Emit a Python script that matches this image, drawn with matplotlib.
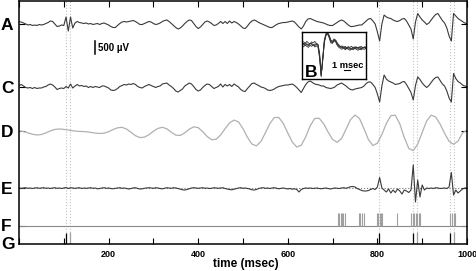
import numpy as np
import matplotlib.pyplot as plt

plt.rcParams['font.family'] = ['Liberation Sans', 'DejaVu Sans']
plt.rcParams['font.weight'] = 'bold'

W, H = 477, 271  # output size in pixels

# sample times (msec)
t_5ms = np.arange(0, 1001, 5)
t_10ms = np.arange(0, 1001, 10)

# traces A, C, E in uV, one value every 5 msec
trace_a = [
    80, 80, 40, 0, -40, -20, -60, -40, -60, -20,
    -40, -20, 20, 60, 120, 100, 0, -100, -80, -40,
    -60, 280, -280, 280, -160, 40, 100, 60, 40, 20,
    40, 0, 20, -20, 0, 20, -20, 20, 40, 0,
    -40, -100, -140, -140, -60, 20, 80, 100, 80, 100,
    120, 140, 100, 40, -20, -20, 20, 60, 100, 80,
    20, -20, 0, 40, 100, 140, 160, 100, 20, -60,
    -140, -200, -160, -80, 20, 100, 160, 140, 20, -100,
    -180, -120, -20, 80, 120, 80, 20, -60, -40, 20,
    100, 20, 100, 20, 120, 40, 100, 60, 0, -80,
    -160, -180, -80, 40, 120, 160, 120, 60, 20, -20,
    -60, -100, -140, -140, -80, -20, 20, 40, 60, 60,
    80, 100, 120, 80, -20, -120, -200, -80, 100, 200,
    220, 180, 140, 100, 80, 60, 40, 0, -40, -60,
    -60, 0, 60, 120, 160, 120, 40, -40, -100, -100,
    -80, -60, -40, -40, 40, 120, 200, 220, 120, 0,
    -320, -680, 0, 360, 280, 240, 220, 160, 120, 100,
    140, 200, 220, 120, -40, -200, -600, 80, 420, 280,
    160, 80, -20, 40, 160, 280, 380, 420, 280, 140,
    40, -160, -480, -680, 420, 320, 220, 160, 100, 40,
    20,
]
trace_c = [
    60, 100, 40, -20, -40, -20, -60, -20, -60, -40,
    -40, 0, 20, 80, 120, 80, 0, -100, -60, -40,
    -60, 20, -40, 120, -40, 40, 100, 40, 60, 20,
    40, -20, 20, -20, 20, 0, -20, 40, 40, 0,
    -40, -120, -140, -120, -60, 20, 60, 100, 80, 120,
    100, 140, 100, 20, -20, -40, 20, 60, 100, 60,
    20, -20, 20, 40, 120, 140, 160, 80, 20, -60,
    -160, -200, -140, -80, 40, 100, 160, 120, 20, -100,
    -160, -120, -20, 60, 120, 100, 20, -60, -20, 20,
    120, 0, 100, 40, 100, 20, 120, 60, 0, -100,
    -160, -180, -60, 40, 140, 160, 100, 60, 0, -20,
    -60, -120, -140, -120, -80, -20, 20, 40, 60, 80,
    80, 100, 120, 60, -20, -120, -220, -60, 100, 200,
    240, 180, 120, 100, 80, 40, 40, -20, -40, -60,
    -40, 0, 80, 120, 160, 100, 40, -40, -100, -120,
    -80, -60, -40, -20, 40, 140, 200, 200, 100, -20,
    -280, -600, 40, 480, 320, 240, 200, 160, 100, 120,
    140, 200, 220, 100, -60, -220, -520, 60, 400, 300,
    160, 60, -20, 60, 180, 300, 380, 400, 260, 120,
    40, -160, -440, -600, 540, 340, 220, 160, 80, 40,
    20,
]
trace_e = [
    0, -12, 0, 12, -12, 0, -20, 0, 12, -12,
    0, 12, -12, 0, -20, 0, 12, -12, 0, -20,
    0, 20, -20, 12, 0, -12, 0, 12, -20, 0,
    -12, 0, 12, -12, 0, -32, -20, 0, 12, -12,
    0, -20, -32, -12, 0, 12, -12, 0, -20, -40,
    -20, 0, 12, -20, -40, -32, -12, 0, 12, 0,
    -12, 12, 0, -20, -32, -12, 12, 0, -12, 12,
    0, -20, -48, -72, -80, -60, -32, 0, 12, 0,
    -12, 0, 12, -12, 0, -20, -12, 12, 0, -12,
    0, 12, -20, -40, -60, -72, -48, -20, 0, 12,
    -12, 0, -20, -40, -72, -80, -60, -20, 0, 12,
    -12, 0, -20, 0, 12, -12, -32, -12, 0, -20,
    -40, -20, -48, -32, -60, -160, -60, -20, 0, -12,
    0, -20, -12, 0, -20, -32, -12, 0, -20, -40,
    -20, 0, -12, -20, 0, 12, -12, 20, 52, 60,
    40, -20, -60, -100, -120, -120, -100, -60, -20, -60,
    40, 420, 0, -80, -160, -40, -200, -80, -180, -40,
    -120, -240, -80, -120, -180, -80, 920, -560, 320, -360,
    120, -80, 0, -20, 0, -20, 12, 0, -20, -12,
    0, -20, 40, 620, -280, -80, -200, -120, -40, 0,
    0,
]
# trace D (filtered), uV, one value every 10 msec
trace_d = [
    0, -20, -76, -128, -160, -140, -76, 4, 64, 80,
    66, 40, 11, -12, -20, -30, -54, -82, -98, -88,
    -28, 59, 128, 146, 79, -53, -188, -264, -246, -148,
    -12, 104, 148, 88, -49, -166, -178, -75, 73, 166,
    135, -24, -221, -348, -330, -160, 92, 323, 436, 364,
    94, -254, -524, -595, -420, -72, 300, 540, 540, 300,
    -80, -444, -640, -572, -232, 204, 500, 512, 292, -42,
    -336, -452, -300, 72, 456, 638, 500, 96, -346, -580,
    -488, -136, 300, 612, 632, 284, -260, -696, -784, -524,
    -56, 404, 632, 560, 278, -96, -412, -532, -404, -80,
    40,
]

# spike times (msec)
f_spikes = [712, 715, 718, 721, 724, 727, 758, 761, 766, 770,
            799, 802, 805, 808, 811, 843,
            876, 879, 882, 886, 889, 892, 895, 963, 966, 970, 974]
g_spikes_black = [104, 804, 880, 962]
g_spikes_gray = [114, 888, 971]
event_times = [104, 114, 804, 880, 888, 962, 971]

# inset B: overlaid spike waveforms (uV), 0.25 msec steps
t_inset = np.arange(0, 10.01, 0.25)
waves = [
    [0, 40, -40, 20, -20, 40, 0, -40, 20, 0, -40, -480, -1280, -560, 160, 400,
     460, 320, 120, 80, 180, 140, 0, -80, -120, -100, -160, -120, -180, -140,
     -200, -160, -140, -180, -120, -160, -200, -140, -160, -120, -160],
    [80, 100, 40, 120, 60, 20, 100, 60, 120, 40, 0, -360, -1240, -640, 80, 360,
     440, 360, 180, 120, 220, 160, 40, -40, -80, -140, -100, -180, -120, -100,
     -160, -200, -120, -100, -160, -140, -100, -180, -120, -140, -100],
    [-60, -100, -20, -80, -120, -40, -80, -20, -100, -60, -120, -560, -1300, -480,
     200, 440, 420, 260, 60, 40, 140, 100, -40, -120, -160, -200, -140, -220,
     -160, -200, -240, -180, -220, -160, -200, -240, -180, -220, -180, -200, -160],
    [20, -20, 60, 0, -60, 20, 40, -20, -60, 20, -20, -420, -1220, -600, 120, 380,
     480, 340, 140, 60, 160, 180, 60, -20, -100, -60, -120, -80, -140, -100,
     -120, -80, -160, -120, -100, -140, -120, -80, -140, -100, -120],
]

x_ticks = list(range(0, 1001, 100))
x_ticklabels = [str(t) if (t % 200 == 0 and t > 0) else '' for t in x_ticks]

# vertical position of each channel (uV, 40 uV per pixel)
offset = {'A': 8800, 'C': 6280, 'D': 4520, 'E': 2240, 'F': 732, 'G': 0}

fig = plt.figure(figsize=(W / 100, H / 100), dpi=100)
ax = fig.add_axes([19 / W, 27 / H, 448 / W, 243 / H])

for t in event_times:
    ax.axvline(t, color='#c4c4c4', ls=':', lw=0.8, zorder=1)

ax.plot(t_5ms, np.array(trace_a) + offset['A'], color='#3a3a3a', lw=0.8)
ax.plot(t_5ms, np.array(trace_c) + offset['C'], color='#3a3a3a', lw=0.8)
ax.plot(t_10ms, np.array(trace_d) + offset['D'], color='#b0b0b0', lw=0.9)
ax.axhline(offset['E'] + 20, color='#777777', ls=':', lw=0.8)
ax.plot(t_5ms, np.array(trace_e) + offset['E'], color='#3a3a3a', lw=0.8)
ax.axhline(offset['F'], color='#8a8a8a', lw=0.8)
ax.vlines(f_spikes, offset['F'], offset['F'] + 520, color='#a0a0a0', lw=0.8)
ax.vlines(g_spikes_black, 0, 460, color='black', lw=0.9)
ax.vlines(g_spikes_gray, 0, 500, color='#a0a0a0', lw=0.9)

# 500 uV scale bar
ax.plot([170, 170], [7620, 8120], color='black', lw=1.1)
ax.text(177, 7728, '500 \u00b5V', fontsize=7, fontweight='bold', va='baseline')

ax.set_xlim(0, 1000)
ax.set_ylim(0, 9720)
ax.set_xticks(x_ticks)
ax.set_xticklabels(x_ticklabels, fontsize=6.5, fontweight='bold')
ax.set_yticks([offset[k] for k in 'ACDEF'])
ax.set_yticklabels([])
ax.tick_params(direction='in', top=True, right=True, length=4, width=0.8, pad=4.5)
for s in ax.spines.values():
    s.set_linewidth(1.1)

# channel letters
baselines = {'A': 30, 'C': 93.3, 'D': 136.7, 'E': 194, 'F': 231, 'G': 249.3}
for k, py in baselines.items():
    fig.text(1 / W, 1 - py / H, k, fontsize=12.5, fontweight='bold', va='baseline', ha='left')

fig.text(245.5 / W, 1 - 267.5 / H, 'time (msec)', fontsize=8.5, fontweight='bold',
         ha='center', va='baseline')

# inset B
ax_in = fig.add_axes([302 / W, (H - 79) / H, 64 / W, 47 / H])
for w in waves:
    ax_in.plot(t_inset, w, color='#333333', lw=0.6)
ax_in.set_xlim(0, 10)
ax_in.set_ylim(-1400, 500)
ax_in.set_xticks([])
ax_in.set_yticks([])
for s in ax_in.spines.values():
    s.set_linewidth(1.0)
ax_in.plot([6.5, 7.5], [-1040, -1040], color='black', lw=0.8)
ax_in.text(7.2, -950, '1 msec', fontsize=6.7, fontweight='bold', ha='center', va='baseline')
ax_in.text(0.45, -1308, 'B', fontsize=12.5, fontweight='bold', va='baseline')

fig.savefig('out.png', dpi=100)
